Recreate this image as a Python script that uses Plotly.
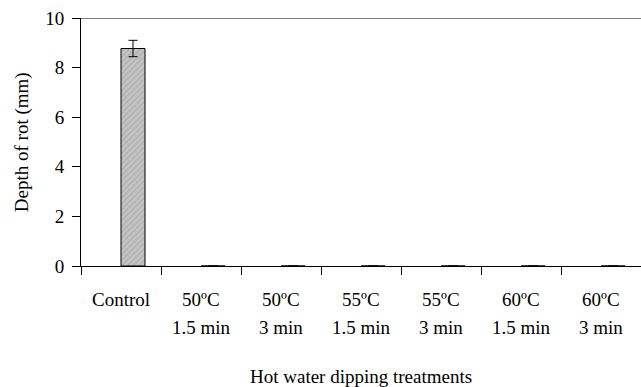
import plotly.graph_objects as go

categories = ["Control", "50ºC 1.5 min", "50ºC 3 min", "55ºC 1.5 min", "55ºC 3 min", "60ºC 1.5 min", "60ºC 3 min"]
label_line1 = ["Control", "50ºC", "50ºC", "55ºC", "55ºC", "60ºC", "60ºC"]
label_line2 = ["", "1.5 min", "3 min", "1.5 min", "3 min", "1.5 min", "3 min"]
depth = [8.77, 0, 0, 0, 0, 0, 0]
errors = [0.33, 0, 0, 0, 0, 0, 0]
y_ticks = [0, 2, 4, 6, 8, 10]

FONT = "Times New Roman"

fig = go.Figure()
fig.add_trace(go.Bar(
    x=categories, y=depth,
    width=0.3, offset=0,
    marker=dict(
        color="#c4c4c4",
        line=dict(color="black", width=1),
        pattern=dict(shape="/", fgcolor="#8c8c8c", bgcolor="#c4c4c4", size=4, solidity=0.25),
    ),
    error_y=dict(type="data", array=errors, visible=True, color="black", thickness=1, width=4.5),
    showlegend=False,
))

annotations = []
for cat, l1, l2 in zip(categories, label_line1, label_line2):
    annotations.append(dict(x=cat, y=0, xref="x", yref="paper", text=l1, showarrow=False,
                            xanchor="center", yanchor="middle", yshift=-33,
                            font=dict(family=FONT, size=19, color="black")))
    if l2:
        annotations.append(dict(x=cat, y=0, xref="x", yref="paper", text=l2, showarrow=False,
                                xanchor="center", yanchor="middle", yshift=-61,
                                font=dict(family=FONT, size=19, color="black")))
annotations.append(dict(x=0.5, y=0, xref="paper", yref="paper", text="Hot water dipping treatments",
                        showarrow=False, xanchor="center", yanchor="middle", yshift=-110,
                        font=dict(family=FONT, size=19, color="black")))
annotations.append(dict(x=-0.105, y=0.5, xref="paper", yref="paper", text="Depth of rot (mm)",
                        showarrow=False, textangle=-90, xanchor="center", yanchor="middle",
                        font=dict(family=FONT, size=19, color="black")))

fig.update_layout(
    width=641, height=387,
    margin=dict(l=81, r=0, t=18, b=121),
    paper_bgcolor="white", plot_bgcolor="white",
    font=dict(family=FONT, size=19, color="black"),
    annotations=annotations,
    shapes=[dict(type="line", xref="paper", yref="y", x0=0, x1=1, y0=10, y1=10,
                 line=dict(color="black", width=1))],
    xaxis=dict(
        type="category", showticklabels=False, tickson="boundaries",
        ticks="outside", ticklen=8, tickcolor="black", tickwidth=1,
        showline=True, linecolor="black", linewidth=1, showgrid=False, zeroline=False,
        range=[-0.5, 6.5],
    ),
    yaxis=dict(
        range=[0, 10], tickvals=y_ticks, ticks="outside", ticklen=8, tickcolor="black",
        ticklabelstandoff=4,
        showline=True, linecolor="black", linewidth=1, showgrid=False, zeroline=False,
        tickfont=dict(family=FONT, size=19, color="black"),
    ),
)

fig.write_html("out.html")
